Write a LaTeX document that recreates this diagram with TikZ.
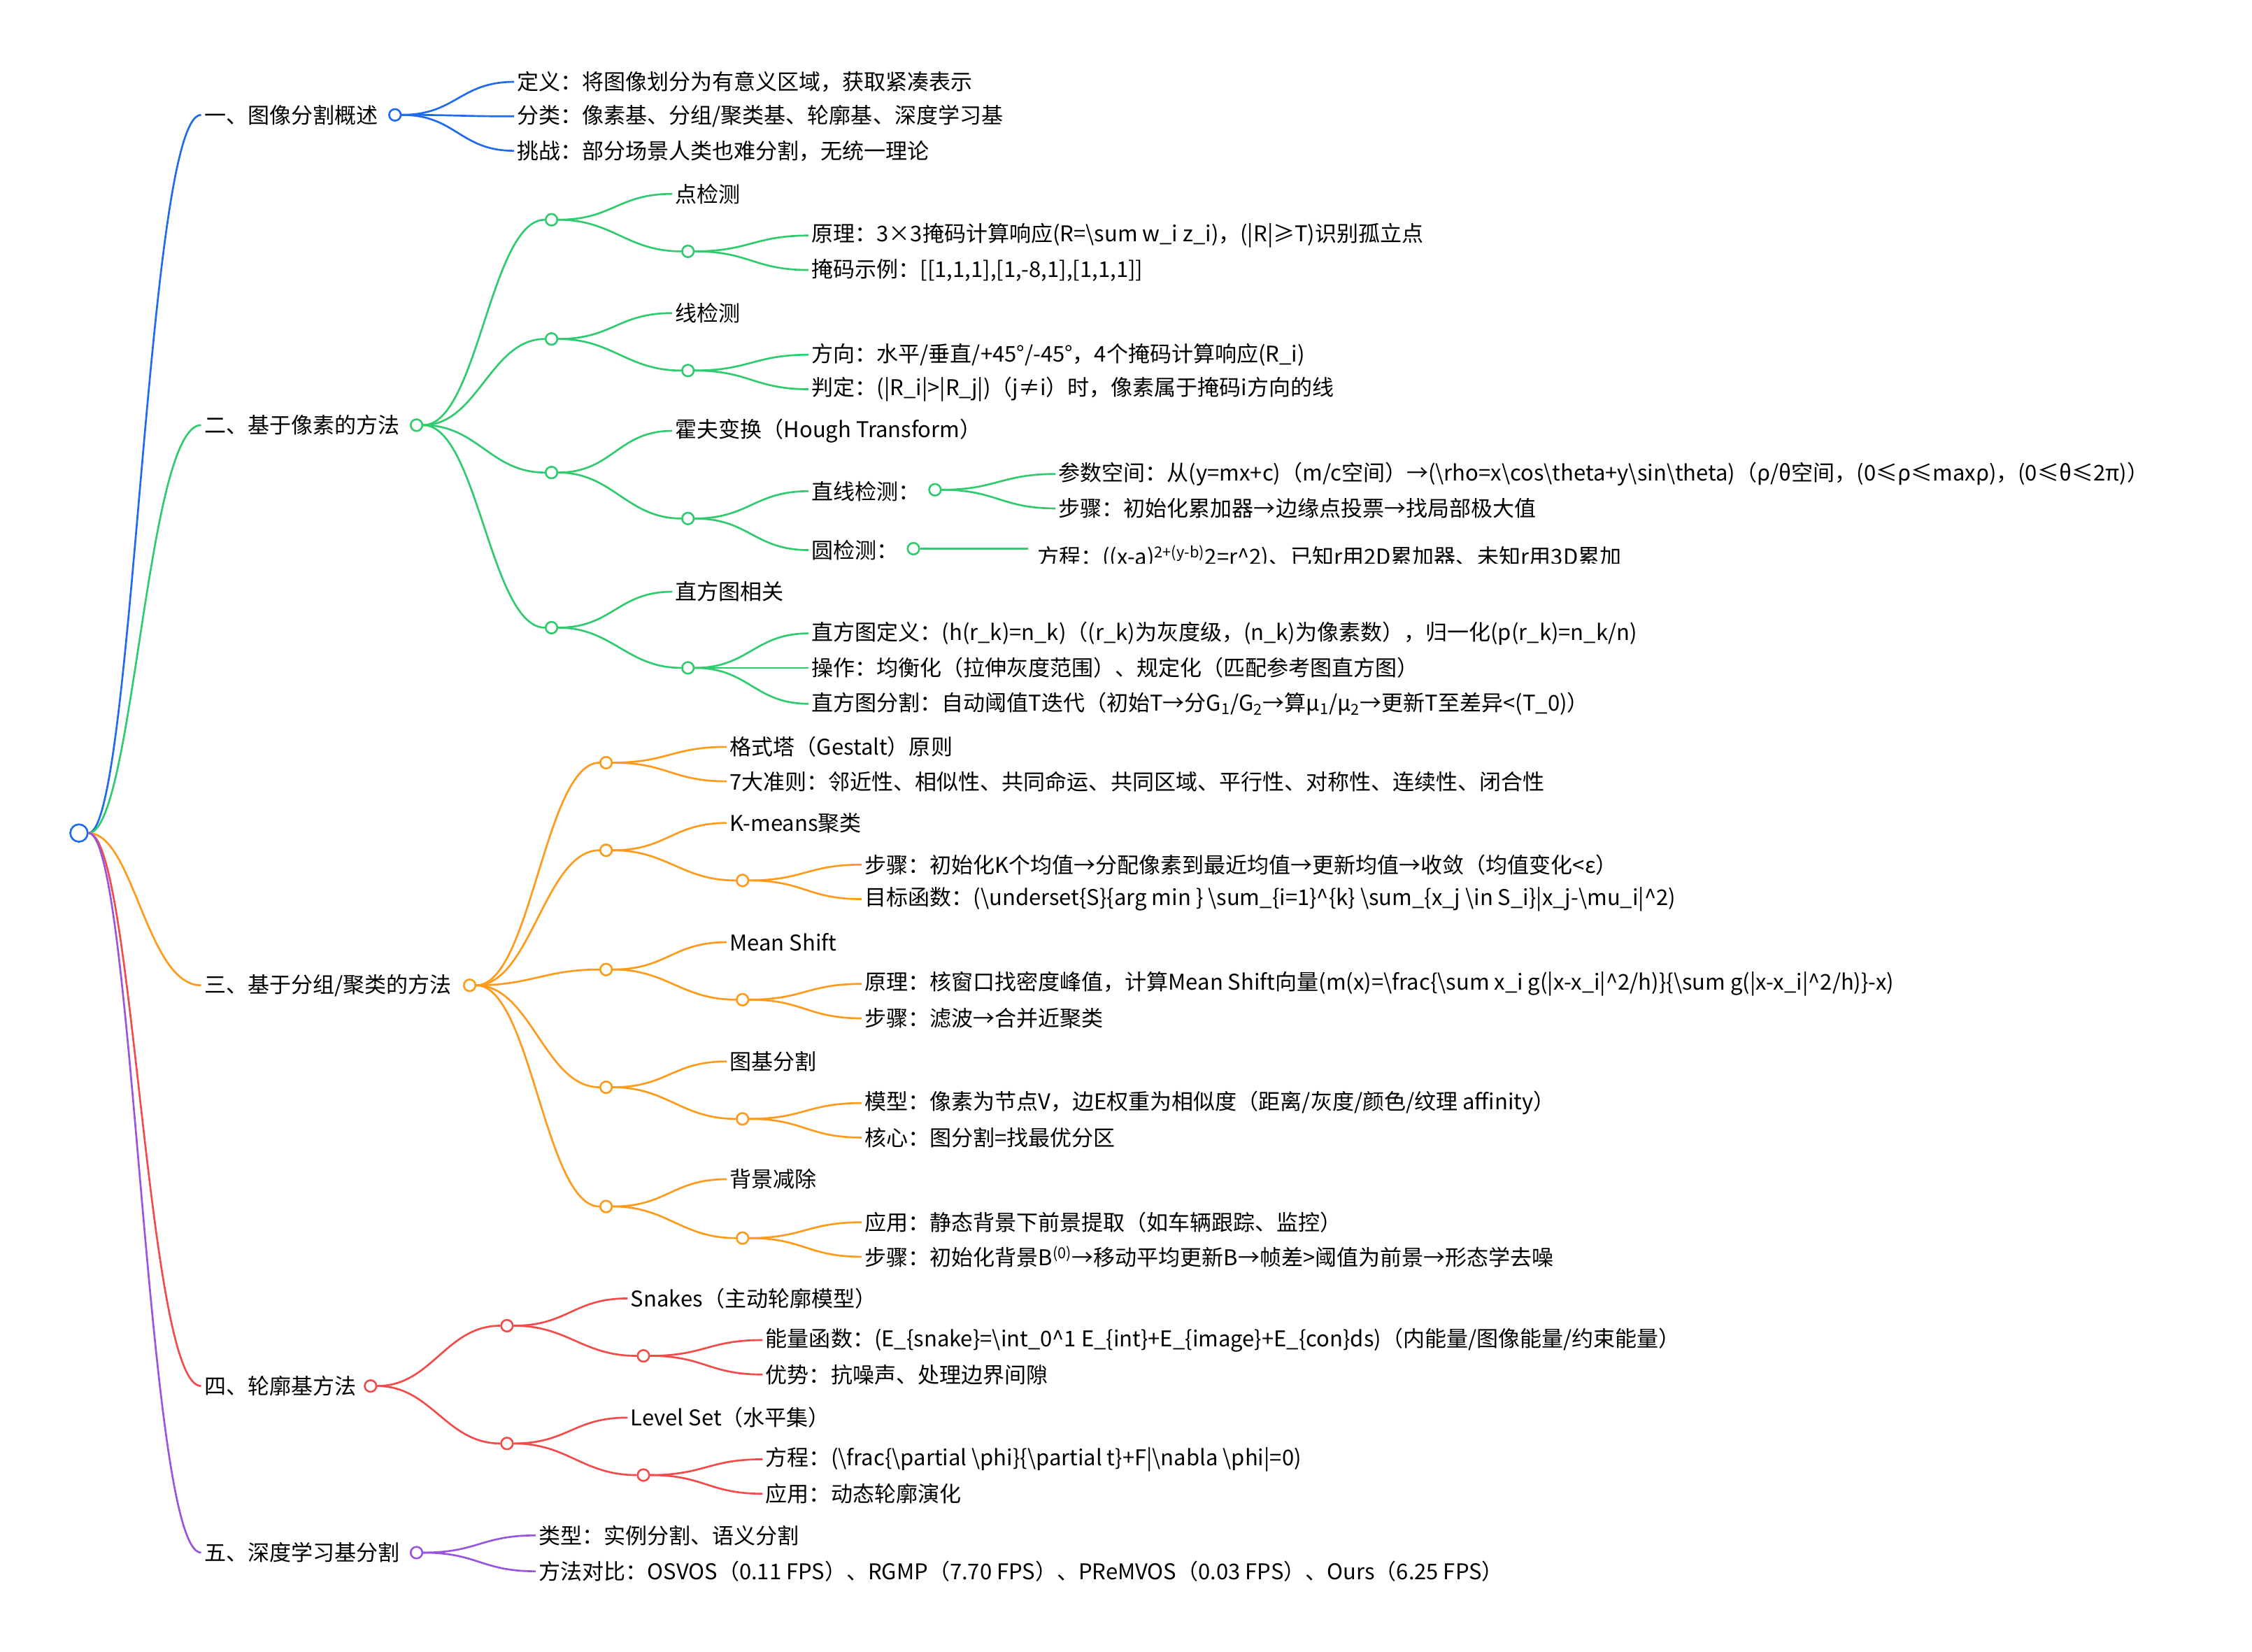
\documentclass[tikz,border=0pt]{standalone}
\usepackage{fontspec}
\setmainfont{Noto Sans CJK SC}
\def\bs{\textbackslash}
\begin{document}
\begin{tikzpicture}[x=1pt,y=-1pt,
  every node/.style={font=\fontsize{15.1}{17}\selectfont},
  txt/.style={anchor=west,inner sep=2pt},
  dot/.style={circle,draw,fill=white,line width=1.2pt,minimum size=8pt,inner sep=0pt},
  ln/.style={line width=1.3pt},
  cb/.style={draw=blue1,color=blue1},
  cg/.style={draw=green1,color=green1},
  co/.style={draw=orange1,color=orange1},
  cr/.style={draw=red1,color=red1},
  cp/.style={draw=purple1,color=purple1},
  cv/.style={to path={.. controls ([xshift=38pt]\tikztostart) and ([xshift=-38pt]\tikztotarget) .. (\tikztotarget)}}]
\definecolor{blue1}{HTML}{1F6BF0}
\definecolor{green1}{HTML}{2FCB6E}
\definecolor{orange1}{HTML}{FF9A1A}
\definecolor{red1}{HTML}{F34A4A}
\definecolor{purple1}{HTML}{9A55E0}
\useasboundingbox (0,0) rectangle (1568,1150);
\fill[white] (0,0) rectangle (1568,1150);
% root
\node[dot,cb,minimum size=12pt] (root) at (55,580) {};
% ===== branch 1
\node[txt] (b1) at (140,80) {一、图像分割概述};
\node[dot,cb] (b1c) at (275,80) {};
\node[txt] (b1a) at (358,57) {定义：将图像划分为有意义区域，获取紧凑表示};
\node[txt] (b1b) at (358,81) {分类：像素基、分组/聚类基、轮廓基、深度学习基};
\node[txt] (b1d) at (358,105) {挑战：部分场景人类也难分割，无统一理论};
\draw[ln,blue1] (root) to[cv] (b1.west);
\foreach \t in {b1a,b1b,b1d} \draw[ln,blue1] (b1c.east) to[cv] (\t.west);
% ===== branch 2
\node[txt] (b2) at (140,296) {二、基于像素的方法};
\node[dot,cg] (b2c) at (290,296) {};
\draw[ln,green1] (root) to[cv] (b2.west);
\node[dot,cg] (g1) at (384,153) {};
\node[dot,cg] (g2) at (384,236) {};
\node[dot,cg] (g3) at (384,329) {};
\node[dot,cg] (g4) at (384,437) {};
\foreach \t in {g1,g2,g3,g4} \draw[ln,green1] (b2c.east) to[cv] (\t.west);
% g1
\node[txt] (g1t) at (468,135) {点检测};
\node[dot,cg] (g1c) at (479,175) {};
\node[txt] (g1a) at (563,164) {原理：3×3掩码计算响应(R=\bs sum w\_i z\_i)，(|R|≥T)识别孤立点};
\node[txt] (g1b) at (563,188) {掩码示例：[[1,1,1],[1,-8,1],[1,1,1]]};
\draw[ln,green1] (g1.east) to[cv] (g1t.west);
\draw[ln,green1] (g1.east) to[cv] (g1c.west);
\foreach \t in {g1a,g1b} \draw[ln,green1] (g1c.east) to[cv] (\t.west);
% g2
\node[txt] (g2t) at (468,218) {线检测};
\node[dot,cg] (g2c) at (479,258) {};
\node[txt] (g2a) at (563,247) {方向：水平/垂直/+45°/-45°，4个掩码计算响应(R\_i)};
\node[txt] (g2b) at (563,271) {判定：(|R\_i|>|R\_j|)（j≠i）时，像素属于掩码i方向的线};
\draw[ln,green1] (g2.east) to[cv] (g2t.west);
\draw[ln,green1] (g2.east) to[cv] (g2c.west);
\foreach \t in {g2a,g2b} \draw[ln,green1] (g2c.east) to[cv] (\t.west);
% g3
\node[txt] (g3t) at (468,300) {霍夫变换（Hough Transform）};
\node[dot,cg] (g3c) at (479,361) {};
\node[txt] (g3l) at (563,342) {直线检测：};
\node[dot,cg] (g3lc) at (651,341) {};
\node[txt] (g3la) at (735,330) {参数空间：从(y=mx+c)（m/c空间）→(\bs rho=x\bs cos\bs theta+y\bs sin\bs theta)（ρ/θ空间，(0≤ρ≤maxρ)，(0≤θ≤2π)）};
\node[txt] (g3lb) at (735,354) {步骤：初始化累加器→边缘点投票→找局部极大值};
\node[txt] (g3r) at (563,383) {圆检测：};
\node[dot,cg] (g3rc) at (636,382) {};
\coordinate (g3re) at (716,382);
\begin{scope}
\clip (700,370) rectangle (1200,392);
\node[txt] (g3ra) at (720,388) {方程：((x-a)\textsuperscript{2+(y-b)}2=r\^{}2)、已知r用2D累加器、未知r用3D累加};
\end{scope}
\draw[ln,green1] (g3.east) to[cv] (g3t.west);
\draw[ln,green1] (g3.east) to[cv] (g3c.west);
\draw[ln,green1] (g3c.east) to[cv] (g3l.west);
\draw[ln,green1] (g3c.east) to[cv] (g3r.west);
\foreach \t in {g3la,g3lb} \draw[ln,green1] (g3lc.east) to[cv] (\t.west);
\draw[ln,green1] (g3rc.east) -- (g3re);
% g4
\node[txt] (g4t) at (468,412) {直方图相关};
\node[dot,cg] (g4c) at (479,465) {};
\node[txt] (g4a) at (563,441) {直方图定义：(h(r\_k)=n\_k)（(r\_k)为灰度级，(n\_k)为像素数），归一化(p(r\_k)=n\_k/n)};
\node[txt] (g4b) at (563,465) {操作：均衡化（拉伸灰度范围）、规定化（匹配参考图直方图）};
\node[txt] (g4d) at (563,490) {直方图分割：自动阈值T迭代（初始T→分G\textsubscript{1}/G\textsubscript{2}→算μ\textsubscript{1}/μ\textsubscript{2}→更新T至差异<(T\_0)）};
\draw[ln,green1] (g4.east) to[cv] (g4t.west);
\draw[ln,green1] (g4.east) to[cv] (g4c.west);
\foreach \t in {g4a,g4b,g4d} \draw[ln,green1] (g4c.east) to[cv] (\t.west);
% ===== branch 3
\node[txt] (b3) at (140,686) {三、基于分组/聚类的方法};
\node[dot,co] (b3c) at (327,686) {};
\draw[ln,orange1] (root) to[cv] (b3.west);
\node[dot,co] (o1) at (422,531) {};
\node[dot,co] (o2) at (422,592) {};
\node[dot,co] (o3) at (422,675) {};
\node[dot,co] (o4) at (422,757) {};
\node[dot,co] (o5) at (422,840) {};
\foreach \t in {o1,o2,o3,o4,o5} \draw[ln,orange1] (b3c.east) to[cv] (\t.west);
\node[txt] (o1a) at (506,520) {格式塔（Gestalt）原则};
\node[txt] (o1b) at (506,544) {7大准则：邻近性、相似性、共同命运、共同区域、平行性、对称性、连续性、闭合性};
\foreach \t in {o1a,o1b} \draw[ln,orange1] (o1.east) to[cv] (\t.west);
% o2
\node[txt] (o2t) at (506,573) {K-means聚类};
\node[dot,co] (o2c) at (517,613) {};
\node[txt] (o2a) at (600,602) {步骤：初始化K个均值→分配像素到最近均值→更新均值→收敛（均值变化<ε）};
\node[txt] (o2b) at (600,626) {目标函数：(\bs underset\{S\}\{arg min \} \bs sum\_\{i=1\}\^{}\{k\} \bs sum\_\{x\_j \bs in S\_i\}|x\_j-\bs mu\_i|\^{}2)};
\draw[ln,orange1] (o2.east) to[cv] (o2t.west);
\draw[ln,orange1] (o2.east) to[cv] (o2c.west);
\foreach \t in {o2a,o2b} \draw[ln,orange1] (o2c.east) to[cv] (\t.west);
% o3
\node[txt] (o3t) at (506,656) {Mean Shift};
\node[dot,co] (o3c) at (517,696) {};
\node[txt] (o3a) at (600,685) {原理：核窗口找密度峰值，计算Mean Shift向量(m(x)=\bs frac\{\bs sum x\_i g(|x-x\_i|\^{}2/h)\}\{\bs sum g(|x-x\_i|\^{}2/h)\}-x)};
\node[txt] (o3b) at (600,709) {步骤：滤波→合并近聚类};
\draw[ln,orange1] (o3.east) to[cv] (o3t.west);
\draw[ln,orange1] (o3.east) to[cv] (o3c.west);
\foreach \t in {o3a,o3b} \draw[ln,orange1] (o3c.east) to[cv] (\t.west);
% o4
\node[txt] (o4t) at (506,739) {图基分割};
\node[dot,co] (o4c) at (517,779) {};
\node[txt] (o4a) at (600,768) {模型：像素为节点V，边E权重为相似度（距离/灰度/颜色/纹理 affinity）};
\node[txt] (o4b) at (600,792) {核心：图分割=找最优分区};
\draw[ln,orange1] (o4.east) to[cv] (o4t.west);
\draw[ln,orange1] (o4.east) to[cv] (o4c.west);
\foreach \t in {o4a,o4b} \draw[ln,orange1] (o4c.east) to[cv] (\t.west);
% o5
\node[txt] (o5t) at (506,821) {背景减除};
\node[dot,co] (o5c) at (517,862) {};
\node[txt] (o5a) at (600,851) {应用：静态背景下前景提取（如车辆跟踪、监控）};
\node[txt] (o5b) at (600,875) {步骤：初始化背景B\textsuperscript{(0)}→移动平均更新B→帧差>阈值为前景→形态学去噪};
\draw[ln,orange1] (o5.east) to[cv] (o5t.west);
\draw[ln,orange1] (o5.east) to[cv] (o5c.west);
\foreach \t in {o5a,o5b} \draw[ln,orange1] (o5c.east) to[cv] (\t.west);
% ===== branch 4
\node[txt] (b4) at (140,965) {四、轮廓基方法};
\node[dot,cr] (b4c) at (258,965) {};
\draw[ln,red1] (root) to[cv] (b4.west);
\node[dot,cr] (r1) at (353,923) {};
\node[dot,cr] (r2) at (353,1005) {};
\foreach \t in {r1,r2} \draw[ln,red1] (b4c.east) to[cv] (\t.west);
\node[txt] (r1t) at (437,904) {Snakes（主动轮廓模型）};
\node[dot,cr] (r1c) at (448,944) {};
\node[txt] (r1a) at (531,933) {能量函数：(E\_\{snake\}=\bs int\_0\^{}1 E\_\{int\}+E\_\{image\}+E\_\{con\}ds)（内能量/图像能量/约束能量）};
\node[txt] (r1b) at (531,957) {优势：抗噪声、处理边界间隙};
\draw[ln,red1] (r1.east) to[cv] (r1t.west);
\draw[ln,red1] (r1.east) to[cv] (r1c.west);
\foreach \t in {r1a,r1b} \draw[ln,red1] (r1c.east) to[cv] (\t.west);
\node[txt] (r2t) at (437,987) {Level Set（水平集）};
\node[dot,cr] (r2c) at (448,1027) {};
\node[txt] (r2a) at (531,1016) {方程：(\bs frac\{\bs partial \bs phi\}\{\bs partial t\}+F|\bs nabla \bs phi|=0)};
\node[txt] (r2b) at (531,1040) {应用：动态轮廓演化};
\draw[ln,red1] (r2.east) to[cv] (r2t.west);
\draw[ln,red1] (r2.east) to[cv] (r2c.west);
\foreach \t in {r2a,r2b} \draw[ln,red1] (r2c.east) to[cv] (\t.west);
% ===== branch 5
\node[txt] (b5) at (140,1081) {五、深度学习基分割};
\node[dot,cp] (b5c) at (290,1081) {};
\draw[ln,purple1] (root) to[cv] (b5.west);
\node[txt] (p1) at (373,1069) {类型：实例分割、语义分割};
\node[txt] (p2) at (373,1094) {方法对比：OSVOS（0.11 FPS）、RGMP（7.70 FPS）、PReMVOS（0.03 FPS）、Ours（6.25 FPS）};
\foreach \t in {p1,p2} \draw[ln,purple1] (b5c.east) to[cv] (\t.west);
% redraw dots on top
\foreach \n/\c in {b1c/blue1,b2c/green1,g1/green1,g2/green1,g3/green1,g4/green1,g1c/green1,g2c/green1,g3c/green1,g3lc/green1,g3rc/green1,g4c/green1,b3c/orange1,o1/orange1,o2/orange1,o3/orange1,o4/orange1,o5/orange1,o2c/orange1,o3c/orange1,o4c/orange1,o5c/orange1,b4c/red1,r1/red1,r2/red1,r1c/red1,r2c/red1,b5c/purple1}
  \draw[\c,line width=1.2pt,fill=white] (\n.center) circle (4pt);
\draw[blue1,line width=1.2pt,fill=white] (root.center) circle (6pt);
\end{tikzpicture}
\end{document}
